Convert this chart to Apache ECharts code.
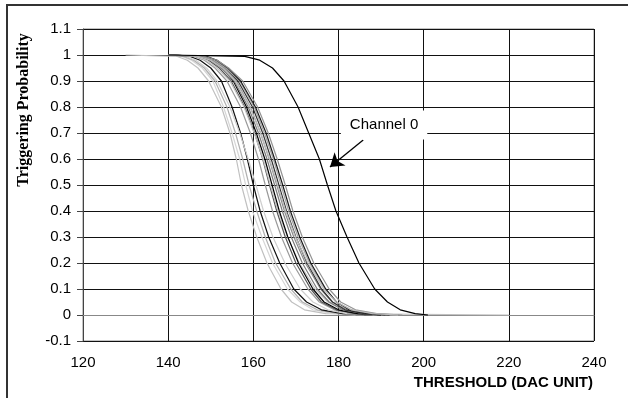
<!DOCTYPE html>
<html><head><meta charset="utf-8">
<script src="https://cdn.jsdelivr.net/npm/echarts@6/dist/echarts.min.js"></script>
<style>html,body{margin:0;padding:0;background:#fff}#c{width:628px;height:398px}</style>
</head><body><div id="c"></div>
<script>
const probLevels = [1, 0.995, 0.98, 0.95, 0.9, 0.8, 0.7, 0.6, 0.5, 0.4, 0.3, 0.2, 0.1, 0.05, 0.02, 0.005, 0];

// Threshold (DAC unit) where each channel reaches the level above
const channel0 = [140, 158, 161.5, 164.5, 167.2, 170.5, 173, 175.5, 177.4, 179.4, 182, 184.8, 188.5, 191.5, 194.5, 198, 201];
const ch1  = [130, 142, 144.5, 147, 149.5, 152.5, 154.5, 156, 157.2, 158.8, 160.8, 163.2, 166.5, 169, 172, 177, 220];
const ch2  = [140, 143, 145.5, 148, 150.5, 153, 155, 156.8, 158.2, 159.8, 162, 164.5, 168, 171, 174, 179, 184];
const ch3  = [140, 143.5, 146, 148.5, 151, 153.8, 155.8, 157.5, 159, 160.8, 162.8, 165.2, 168.8, 171.5, 175, 180, 186];
const ch4  = [140, 145, 147.5, 150, 152.5, 155, 157, 158.6, 160, 161.6, 163.6, 166.2, 169.5, 172.5, 176, 181, 188];
const ch5  = [140, 144, 146.5, 149, 151.5, 154.5, 156.8, 158.8, 160.6, 162.4, 164.6, 167.4, 171, 174, 177.5, 182, 189];
const ch6  = [140, 146, 148.5, 151, 153.8, 157, 159.3, 161.2, 162.8, 164.5, 166.6, 169.2, 172.8, 175.5, 179, 184, 190];
const ch7  = [140, 147, 149.5, 152, 154.8, 158, 160.3, 162.2, 163.8, 165.5, 167.5, 170, 173.5, 176, 179.5, 184, 190];
const ch8  = [140, 146.5, 149, 151.5, 154.5, 157.8, 160.2, 162.3, 164, 165.8, 168, 170.8, 174.5, 177.5, 181, 186, 192];
const ch9  = [140, 148, 150.5, 152.8, 155.3, 158.4, 160.7, 162.7, 164.4, 166.1, 168.1, 170.6, 174, 176.6, 180, 184.5, 190];
const ch10 = [140, 147.5, 150, 152.5, 155.5, 158.8, 161.2, 163.2, 165, 166.8, 168.9, 171.5, 175, 177.8, 181, 186, 192];
const ch11 = [140, 148, 150.5, 153, 156, 159.3, 161.7, 163.7, 165.5, 167.3, 169.5, 172.2, 175.8, 178.5, 182, 187, 193];
const ch12 = [140, 148.5, 151, 153.5, 156.4, 159.8, 162.2, 164.2, 166, 167.8, 170, 172.6, 176, 178.6, 181.5, 186, 191];
const ch13 = [140, 148, 150.8, 153.5, 156.8, 160.2, 162.6, 164.7, 166.5, 168.3, 170.5, 173.2, 176.8, 179.5, 183, 188, 194];
const ch14 = [140, 149, 151.5, 154, 157, 160.5, 163, 165, 166.9, 168.7, 170.9, 173.5, 177, 179.5, 182.5, 187, 192];
const ch15 = [140, 148.5, 151.5, 154.2, 157.5, 161, 163.5, 165.6, 167.5, 169.3, 171.5, 174.2, 177.8, 180.5, 184, 189, 195];
const ch16 = [140, 147, 150, 152.8, 155.8, 159.2, 161.7, 163.8, 165.7, 167.6, 169.9, 172.8, 176.5, 179.5, 183, 188, 194];
const otherChannels = [ch1, ch2, ch3, ch4, ch5, ch6, ch7, ch8, ch9, ch10, ch11, ch12, ch13, ch14, ch15, ch16];

// Styles (kept apart from the data)
const otherColors = ['#c0c0c0','#d6d6d6','#b0b0b0','#111111','#cfcfcf','#9a9a9a','#555555','#c4c4c4',
                     '#000000','#7a7a7a','#8c8c8c','#333333','#a5a5a5','#1a1a1a','#949494','#bdbdbd'];

// Annotation anchor points (data coords)
const annotationText = 'Channel 0';
const annotationLabelAt = [190.7, 0.731];
const arrowFrom = [185.8, 0.673];
const arrowTo = [178.0, 0.569];

function toPairs(thr){ return thr.map((x,i)=>[x, probLevels[i]]); }

const series = otherChannels.map((thr, i) => ({
  name: 'Channel ' + (i+1), type: 'line', data: toPairs(thr),
  showSymbol: false, symbol: 'none',
  lineStyle: { color: otherColors[i], width: 1.2 }, z: 2
}));
series.push({
  name: 'Channel 0', type: 'line', data: toPairs(channel0),
  showSymbol: false, symbol: 'none',
  lineStyle: { color: '#000', width: 1.2 }, z: 3,
  markLine: {
    silent: true, symbol: ['none','arrow'], symbolSize: 13,
    lineStyle: { color: '#000', width: 1.3, type: 'solid' },
    label: { show: false },
    data: [[{ coord: arrowFrom }, { coord: arrowTo }]]
  },
  markPoint: {
    silent: true,
    data: [{ coord: annotationLabelAt, symbol: 'rect', symbolSize: 1,
      itemStyle: { color: 'rgba(0,0,0,0)' },
      label: { show: true, position: 'inside', formatter: annotationText,
        fontFamily: 'Arial, "Liberation Sans", sans-serif', fontSize: 15, color: '#000',
        backgroundColor: '#fff', padding: [7, 9] } }]
  }
});

const chart = echarts.init(document.getElementById('c'), null, { renderer: 'canvas' });
chart.setOption({
  animation: false,
  backgroundColor: '#fff',
  grid: { left: 83, top: 29, right: 34, bottom: 57, show: true, borderColor: '#888', borderWidth: 1, backgroundColor: 'transparent' },
  xAxis: {
    type: 'value', min: 120, max: 240, interval: 20,
    axisLine: { show: true, lineStyle: { color: '#888' } },
    axisTick: { show: false },
    axisLabel: { margin: 14, fontSize: 15, color: '#000', fontFamily: 'Arial, "Liberation Sans", sans-serif' },
    splitLine: { show: true, lineStyle: { color: '#111', width: 1 } }
  },
  yAxis: {
    type: 'value', min: -0.1, max: 1.1, interval: 0.1,
    axisLine: { show: true, lineStyle: { color: '#444' } },
    axisTick: { show: true, length: 6, inside: false, lineStyle: { color: '#444' } },
    axisLabel: { margin: 12, fontSize: 15, color: '#000', fontFamily: 'Arial, "Liberation Sans", sans-serif',
      formatter: v => String(+v.toFixed(1)) },
    splitLine: { show: true, lineStyle: { color: '#111', width: 1 } }
  },
  graphic: [
    { type: 'rect', shape: { x: 7, y: 5, width: 800, height: 600 }, style: { fill: 'none', stroke: '#333', lineWidth: 2 }, silent: true },
    { type: 'text', x: 24, y: 110, rotation: Math.PI / 2,
      style: { text: 'Triggering Probability', fontFamily: '"Liberation Serif", "Times New Roman", serif', fontWeight: 'bold', fontSize: 16, fill: '#000', textAlign: 'center', textVerticalAlign: 'middle' } },
    { type: 'text', x: 593, y: 383,
      style: { text: 'THRESHOLD (DAC UNIT)', fontFamily: 'Arial, "Liberation Sans", sans-serif', fontWeight: 'bold', fontSize: 15, fill: '#000', textAlign: 'right', textVerticalAlign: 'middle' } }
  ],
  series: series
});
</script></body></html>
